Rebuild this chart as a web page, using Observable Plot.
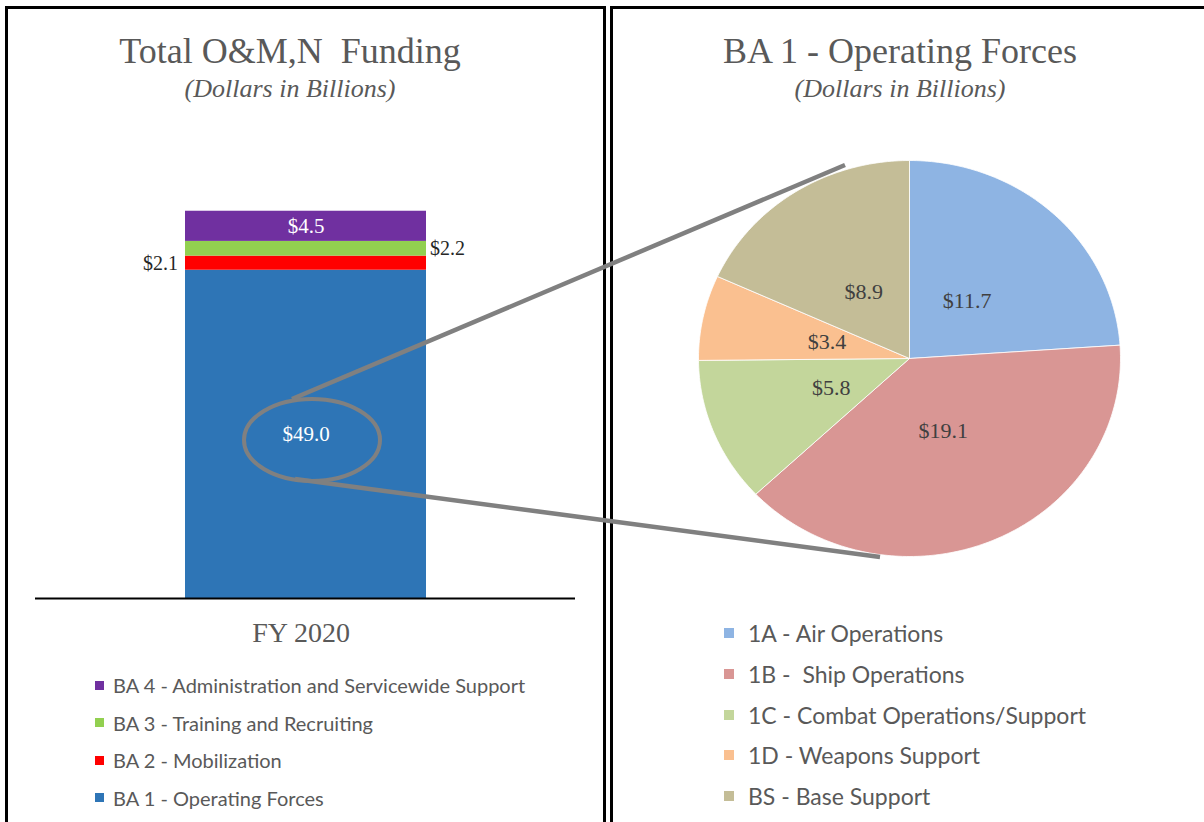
<!DOCTYPE html>
<html><head><meta charset="utf-8">
<script src="https://cdn.jsdelivr.net/npm/d3@7"></script>
<script src="https://cdn.jsdelivr.net/npm/@observablehq/plot@0.6"></script>
<style>
body{margin:0;background:#fff;}
#page{position:relative;width:1204px;height:822px;overflow:hidden;background:#fff;}
.panel{position:absolute;top:6px;height:900px;border:3px solid #000;box-sizing:border-box;}
.title{position:absolute;text-align:center;font-family:"Liberation Serif",serif;color:#595959;white-space:nowrap;}
.h1{font-size:36px;}
.h2{font-size:26px;font-style:italic;}
.plot{position:absolute;}
.legend{position:absolute;font-family:Lato,"Liberation Sans",sans-serif;color:#595959;}
.legend .item{position:absolute;white-space:pre;display:flex;align-items:center;height:26px;}
.legend .sw{display:inline-block;}
#callout{position:absolute;left:0;top:0;pointer-events:none;}
</style></head>
<body><div id="page">
<div class="panel" style="left:5px;width:601px;"></div>
<div class="panel" style="left:610px;width:620px;"></div>
<div class="title h1" style="left:0;width:580px;top:30px;">Total O&amp;M,N&nbsp; Funding</div>
<div class="title h2" style="left:0;width:580px;top:74px;">(Dollars in Billions)</div>
<div class="title h1" style="left:620px;width:560px;top:30px;">BA 1 - Operating Forces</div>
<div class="title h2" style="left:620px;width:560px;top:74px;">(Dollars in Billions)</div>
<div id="left" class="plot" style="left:0;top:120px;"></div>
<div id="right" class="plot" style="left:680px;top:140px;"></div>
<div id="legL" class="legend" style="left:95px;top:0;font-size:20px;"></div>
<div id="legR" class="legend" style="left:724px;top:0;font-size:23px;"></div>
</div>
<script>
// ---- data ----
const fyLabel = "FY 2020";
const baCats = ["BA 1 - Operating Forces", "BA 2 - Mobilization", "BA 3 - Training and Recruiting", "BA 4 - Administration and Servicewide Support"];
const baValues = [49.0, 2.1, 2.2, 4.5];
const baColors = ["#2E75B6", "#FF0000", "#92D050", "#7030A0"];
const opCats = ["1A - Air Operations", "1B -  Ship Operations", "1C - Combat Operations/Support", "1D - Weapons Support", "BS - Base Support"];
const opValues = [11.7, 19.1, 5.8, 3.4, 8.9];
const opColors = ["#8EB4E3", "#D99694", "#C3D69B", "#FAC090", "#C4BD97"];

const fmt = v => "$" + v.toFixed(1);
const serif = "Liberation Serif, serif";

// ---- left: stacked bar ----
const baData = baCats.map((c, i) => ({fy: fyLabel, cat: c, value: baValues[i], idx: i}));
const inside = d => d.idx === 0 || d.idx === 3;
const leftPlot = Plot.plot({
  width: 605, height: 540,
  marginLeft: 35, marginRight: 30, marginTop: 76, marginBottom: 62,
  x: {type: "band", domain: [fyLabel], padding: 0.383, axis: null},
  y: {domain: [0, 60], axis: null},
  color: {domain: baCats, range: baColors},
  marks: [
    Plot.barY(baData, {x: "fy", y: "value", fill: "cat", order: null}),
    Plot.text(baData, Plot.stackY({x: "fy", y: "value", text: d => inside(d) ? fmt(d.value) : "", fill: "white", fontSize: 21, fontFamily: serif})),
    Plot.text(baData, Plot.stackY({x: "fy", y: "value", text: d => d.idx === 1 ? fmt(d.value) : "", fill: "#262626", fontSize: 20, fontFamily: serif, textAnchor: "end", dx: -128})),
    Plot.text(baData, Plot.stackY({x: "fy", y: "value", text: d => d.idx === 2 ? fmt(d.value) : "", fill: "#262626", fontSize: 20, fontFamily: serif, textAnchor: "start", dx: 124})),
    Plot.ruleY([0], {stroke: "#000", strokeWidth: 2}),
    Plot.axisX({tickSize: 0, tickPadding: 24, fontSize: 28, fontFamily: serif, fill: "#595959", dx: -5, label: null})
  ]
});
document.getElementById("left").appendChild(leftPlot);

// ---- right: pie ----
const total = d3.sum(opValues);
let acc = 0;
const slices = opCats.map((c, i) => {
  const a0 = acc / total * 2 * Math.PI; acc += opValues[i];
  const a1 = acc / total * 2 * Math.PI;
  return {cat: c, value: opValues[i], a0, a1};
});
const piePts = [];
for (const s of slices) {
  piePts.push({cat: s.cat, px: 0, py: 0});
  const n = Math.max(2, Math.ceil((s.a1 - s.a0) / (Math.PI / 180)));
  for (let k = 0; k <= n; k++) {
    const a = s.a0 + (s.a1 - s.a0) * k / n;
    piePts.push({cat: s.cat, px: Math.sin(a), py: Math.cos(a)});
  }
  piePts.push({cat: s.cat, px: 0, py: 0});
}
const labelR = 0.40;
const pieLabels = slices.map(s => {
  const m = (s.a0 + s.a1) / 2;
  return {cat: s.cat, value: s.value, px: labelR * Math.sin(m), py: labelR * Math.cos(m)};
});
const rightPlot = Plot.plot({
  width: 460, height: 440,
  marginLeft: 18, marginRight: 20, marginTop: 20, marginBottom: 24,
  x: {domain: [-1, 1], axis: null},
  y: {domain: [-1, 1], axis: null},
  color: {domain: opCats, range: opColors},
  marks: [
    Plot.line(piePts, {x: "px", y: "py", z: "cat", fill: "cat", stroke: "white", strokeWidth: 0.8, curve: "linear"}),
    Plot.text(pieLabels, {x: "px", y: "py", text: d => fmt(d.value), fill: "#404040", fontSize: 22, fontFamily: serif})
  ]
});
document.getElementById("right").appendChild(rightPlot);

// ---- legends ----
function legend(el, cats, colors, order, top0, step, sw, gap) {
  order.forEach((i, r) => {
    const it = document.createElement("div");
    it.className = "item";
    it.style.top = (top0 + r * step - 13) + "px";
    const s = document.createElement("span");
    s.className = "sw"; s.style.background = colors[i];
    s.style.width = sw + "px"; s.style.height = sw + "px"; s.style.marginRight = gap + "px";
    it.appendChild(s);
    it.appendChild(document.createTextNode(cats[i]));
    el.appendChild(it);
  });
}
legend(document.getElementById("legL"), baCats, baColors, [3, 2, 1, 0], 685, 37.5, 9, 9);
legend(document.getElementById("legR"), opCats, opColors, [0, 1, 2, 3, 4], 633, 40.8, 10, 14);

// ---- callout (annotation) ----
const ns = "http://www.w3.org/2000/svg";
const svg = document.createElementNS(ns, "svg");
svg.setAttribute("id", "callout"); svg.setAttribute("width", 1204); svg.setAttribute("height", 822);
svg.innerHTML = `
  <ellipse cx="312" cy="440" rx="68" ry="41" fill="none" stroke="#808080" stroke-width="4"/>
  <line x1="292" y1="399" x2="845" y2="165" stroke="#808080" stroke-width="4.5"/>
  <line x1="295" y1="479" x2="880" y2="557" stroke="#808080" stroke-width="4.5"/>`;
document.getElementById("page").appendChild(svg);
</script>
</body></html>
